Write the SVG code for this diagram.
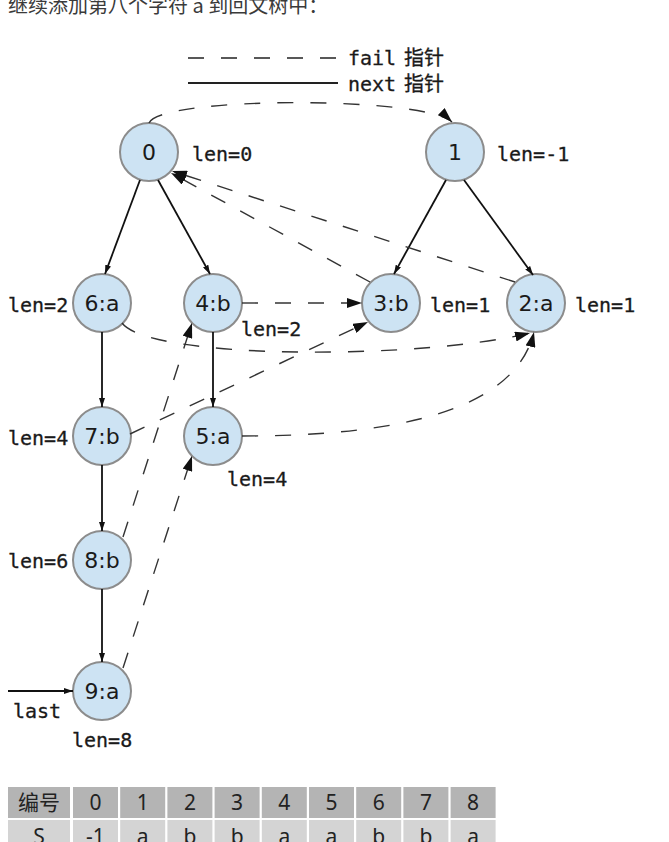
<svg xmlns="http://www.w3.org/2000/svg" width="669" height="842" viewBox="0 0 669 842">
  <style>
    .node circle { fill: #cde3f3; stroke: #8c8c8c; stroke-width: 2; }
    .node text { font-family: "DejaVu Sans", sans-serif; font-size: 22px; fill: #1a1a1a; text-anchor: middle; }
    .lbl { font-family: "DejaVu Sans Mono", "Noto Sans CJK SC", monospace; font-size: 20px; fill: #1a1a1a; stroke: #1a1a1a; stroke-width: 0.3; }
    .next { fill: none; stroke: #111; stroke-width: 1.8; marker-end: url(#nx); }
    .fail { fill: none; stroke: #333; stroke-width: 1.4; stroke-dasharray: 16 17; marker-end: url(#fl); }
    .title { font-family: "Noto Sans CJK SC", sans-serif; font-size: 20px; fill: #3a3a3a; }
    .th { fill: #b4b4b4; }
    .td { fill: #d4d4d4; }
    .tt { font-family: "Noto Sans", "Noto Sans CJK SC", sans-serif; font-size: 21px; fill: #222; text-anchor: middle; }
  </style>
  <defs>
    <marker id="nx" viewBox="0 0 9 6" refX="9" refY="3" markerWidth="9" markerHeight="6" markerUnits="userSpaceOnUse" orient="auto">
      <path d="M0,0 L9,3 L0,6 z" fill="#111"/>
    </marker>
    <marker id="fl" viewBox="0 0 15 10" refX="15" refY="5" markerWidth="15" markerHeight="10" markerUnits="userSpaceOnUse" orient="auto">
      <path d="M0,0 L15,5 L0,10 z" fill="#111"/>
    </marker>
  </defs>

  <rect width="669" height="842" fill="#fff"/>

  <!-- heading -->
  <text class="title" x="8" y="13">继续添加第八个字符 a 到回文树中：</text>

  <!-- legend -->
  <g id="legend">
    <line x1="188" y1="58" x2="338" y2="58" stroke="#222" stroke-width="1.6" stroke-dasharray="16 17"/>
    <line x1="188" y1="83" x2="338" y2="83" stroke="#222" stroke-width="1.8"/>
    <text class="lbl" x="348" y="65">fail</text><text class="lbl" x="404" y="65">指针</text>
    <text class="lbl" x="348" y="91">next</text><text class="lbl" x="404" y="91">指针</text>
  </g>

  <!-- tree nodes -->
  <g id="n0" class="node"><circle cx="149" cy="152" r="29"/><text x="149" y="160">0</text></g>
  <g id="n1" class="node"><circle cx="455" cy="152" r="29"/><text x="455" y="160">1</text></g>
  <g id="n6" class="node"><circle cx="102" cy="303" r="29"/><text x="102" y="311">6:a</text></g>
  <g id="n4" class="node"><circle cx="213" cy="303" r="29"/><text x="213" y="311">4:b</text></g>
  <g id="n3" class="node"><circle cx="391" cy="303" r="29"/><text x="391" y="311">3:b</text></g>
  <g id="n2" class="node"><circle cx="536" cy="303" r="29"/><text x="536" y="311">2:a</text></g>
  <g id="n7" class="node"><circle cx="102" cy="436" r="29"/><text x="102" y="444">7:b</text></g>
  <g id="n5" class="node"><circle cx="213" cy="436" r="29"/><text x="213" y="444">5:a</text></g>
  <g id="n8" class="node"><circle cx="102" cy="560" r="29"/><text x="102" y="568">8:b</text></g>
  <g id="n9" class="node"><circle cx="102" cy="691" r="29"/><text x="102" y="699">9:a</text></g>

  <!-- len annotations -->
  <g id="lens">
    <text class="lbl" x="192" y="161">len=0</text>
    <text class="lbl" x="497" y="161">len=-1</text>
    <text class="lbl" x="8" y="312">len=2</text>
    <text class="lbl" x="241" y="336">len=2</text>
    <text class="lbl" x="430" y="312">len=1</text>
    <text class="lbl" x="575" y="312">len=1</text>
    <text class="lbl" x="8" y="445">len=4</text>
    <text class="lbl" x="227" y="486">len=4</text>
    <text class="lbl" x="8" y="568">len=6</text>
    <text class="lbl" x="13" y="718">last</text>
    <text class="lbl" x="72" y="747">len=8</text>
  </g>

  <!-- connectors -->
  <g id="edges">
    <!-- next pointers -->
    <line class="next" x1="140" y1="180" x2="105" y2="274"/>
    <line class="next" x1="158" y1="180" x2="210" y2="274"/>
    <line class="next" x1="446" y1="180" x2="394" y2="274"/>
    <line class="next" x1="464" y1="180" x2="533" y2="275"/>
    <line class="next" x1="102" y1="332" x2="102" y2="407"/>
    <line class="next" x1="213" y1="332" x2="213" y2="407"/>
    <line class="next" x1="102" y1="465" x2="102" y2="531"/>
    <line class="next" x1="102" y1="589" x2="102" y2="662"/>
    <line class="next" x1="8" y1="691" x2="73" y2="691"/>
    <!-- fail pointers -->
    <path class="fail" d="M149,123 C160,96 425,96 452,122"/>
    <line class="fail" x1="370" y1="282" x2="171" y2="173"/>
    <line class="fail" x1="515" y1="282" x2="172" y2="171"/>
    <line class="fail" x1="242" y1="303" x2="362" y2="303"/>
    <path class="fail" d="M122,323 C150,360 420,360 530,333"/>
    <line class="fail" x1="130" y1="434" x2="368" y2="322"/>
    <path class="fail" d="M242,436 C400,436 515,410 534,332"/>
    <line class="fail" x1="123" y1="537" x2="192" y2="323"/>
    <line class="fail" x1="123" y1="668" x2="192" y2="456"/>
  </g>

  <!-- index table -->
  <g id="table">
    <rect class="th" x="8" y="787" width="62" height="31"/>
    <rect class="td" x="8" y="820" width="62" height="30"/>
    <text class="tt" x="39" y="810">编号</text>
    <text class="tt" x="39" y="844">S</text>

    <rect class="th" x="73" y="787" width="45" height="31"/><rect class="td" x="73" y="820" width="45" height="30"/>
    <rect class="th" x="120.2" y="787" width="45" height="31"/><rect class="td" x="120.2" y="820" width="45" height="30"/>
    <rect class="th" x="167.4" y="787" width="45" height="31"/><rect class="td" x="167.4" y="820" width="45" height="30"/>
    <rect class="th" x="214.6" y="787" width="45" height="31"/><rect class="td" x="214.6" y="820" width="45" height="30"/>
    <rect class="th" x="261.8" y="787" width="45" height="31"/><rect class="td" x="261.8" y="820" width="45" height="30"/>
    <rect class="th" x="309" y="787" width="45" height="31"/><rect class="td" x="309" y="820" width="45" height="30"/>
    <rect class="th" x="356.2" y="787" width="45" height="31"/><rect class="td" x="356.2" y="820" width="45" height="30"/>
    <rect class="th" x="403.4" y="787" width="45" height="31"/><rect class="td" x="403.4" y="820" width="45" height="30"/>
    <rect class="th" x="450.6" y="787" width="45" height="31"/><rect class="td" x="450.6" y="820" width="45" height="30"/>

    <text class="tt" x="95.5" y="810">0</text><text class="tt" x="95.5" y="844">-1</text>
    <text class="tt" x="142.7" y="810">1</text><text class="tt" x="142.7" y="844">a</text>
    <text class="tt" x="189.9" y="810">2</text><text class="tt" x="189.9" y="844">b</text>
    <text class="tt" x="237.1" y="810">3</text><text class="tt" x="237.1" y="844">b</text>
    <text class="tt" x="284.3" y="810">4</text><text class="tt" x="284.3" y="844">a</text>
    <text class="tt" x="331.5" y="810">5</text><text class="tt" x="331.5" y="844">a</text>
    <text class="tt" x="378.7" y="810">6</text><text class="tt" x="378.7" y="844">b</text>
    <text class="tt" x="425.9" y="810">7</text><text class="tt" x="425.9" y="844">b</text>
    <text class="tt" x="473.1" y="810">8</text><text class="tt" x="473.1" y="844">a</text>
  </g>
</svg>
